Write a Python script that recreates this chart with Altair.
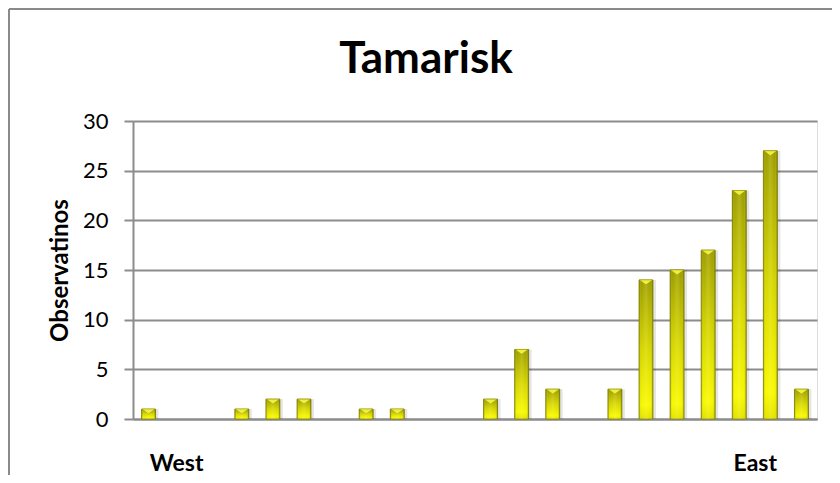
import altair as alt
import pandas as pd

# ---- data ----
positions = list(range(1, 23))
observations = [1, 0, 0, 1, 2, 2, 0, 1, 1, 0, 0, 2, 7, 3, 0, 3, 14, 15, 17, 23, 27, 3]
y_ticks = [0, 5, 10, 15, 20, 25, 30]
end_labels = ["West", "East"]
end_label_pos = [2, 20]
chart_title = "Tamarisk"
y_title = "Observatinos"

df = pd.DataFrame({"pos": positions, "value": observations})
df_nonzero = df[df["value"] > 0]

FONT = "Lato"
GRID = "#8c8c8c"
W, H = 684, 298

x_enc = alt.X(
    "pos:O",
    scale=alt.Scale(domain=positions, paddingInner=0.55, paddingOuter=0.275),
    axis=alt.Axis(labels=False, ticks=False, domain=True, domainColor=GRID,
                  domainWidth=2, title=None, grid=False),
)
y_enc = alt.Y(
    "value:Q",
    scale=alt.Scale(domain=[0, 30], nice=False, zero=True),
    axis=alt.Axis(
        values=y_ticks, grid=True, gridColor=GRID, gridWidth=2,
        domain=True, domainColor=GRID, domainWidth=2,
        ticks=True, tickColor=GRID, tickWidth=2, tickSize=9,
        labelFont=FONT, labelFontSize=22, labelColor="#000000", labelPadding=16,
        title=y_title, titleFont=FONT, titleFontSize=24, titleFontWeight="bold",
        titleColor="#000000", titleAngle=270, titleX=-66, titleY=149,
        titleAlign="center", titleBaseline="alphabetic",
    ),
)

vert_grad = alt.Gradient(
    gradient="linear", x1=0, x2=0, y1=0, y2=1,
    stops=[
        alt.GradientStop(color="#9c9c00", offset=0),
        alt.GradientStop(color="#d6d600", offset=0.5),
        alt.GradientStop(color="#f8f800", offset=0.9),
        alt.GradientStop(color="#e2e200", offset=1),
    ],
)
horiz_grad = alt.Gradient(
    gradient="linear", x1=0, x2=1, y1=0, y2=0,
    stops=[
        alt.GradientStop(color="rgba(90,90,0,0.45)", offset=0),
        alt.GradientStop(color="rgba(255,255,120,0.0)", offset=0.18),
        alt.GradientStop(color="rgba(255,255,170,0.18)", offset=0.5),
        alt.GradientStop(color="rgba(255,255,120,0.0)", offset=0.8),
        alt.GradientStop(color="rgba(70,70,0,0.5)", offset=1),
    ],
)

shadow = alt.Chart(df_nonzero).mark_bar(color="#000000", opacity=0.10, xOffset=3).encode(
    x=x_enc, y=y_enc
)
bars = alt.Chart(df_nonzero).mark_bar(color=vert_grad, stroke="#858500", strokeWidth=0.8).encode(
    x=alt.X("pos:O"), y=alt.Y("value:Q")
)
bars_shade = alt.Chart(df_nonzero).mark_bar(color=horiz_grad).encode(
    x=alt.X("pos:O"), y=alt.Y("value:Q")
)
tops = alt.Chart(df_nonzero).mark_point(
    shape="M-1,0L1,0L0,0.75Z", filled=True, size=170, color="#f0f03c", opacity=1,
    stroke="#8a8a00", strokeWidth=0.4,
).encode(x=alt.X("pos:O"), y=alt.Y("value:Q"))

west = alt.Chart(pd.DataFrame({"pos": [end_label_pos[0]], "t": [end_labels[0]]})).mark_text(
    font=FONT, fontSize=23, fontWeight="bold", color="#000000",
    align="center", baseline="alphabetic", dx=-3,
).encode(x=alt.X("pos:O"), y=alt.value(350), text="t:N")
east = alt.Chart(pd.DataFrame({"pos": [end_label_pos[1]], "t": [end_labels[1]]})).mark_text(
    font=FONT, fontSize=23, fontWeight="bold", color="#000000",
    align="center", baseline="alphabetic", dx=16,
).encode(x=alt.X("pos:O"), y=alt.value(350), text="t:N")

title = alt.Chart(pd.DataFrame({"t": [chart_title]})).mark_text(
    font=FONT, fontSize=44, fontWeight="bold", color="#000000",
    align="center", baseline="alphabetic",
).encode(x=alt.value(293), y=alt.value(-48), text="t:N")

frame_left = alt.Chart(pd.DataFrame({"f": [0]})).mark_rule(
    color="#8a8a8a", strokeWidth=2,
).encode(x=alt.value(-124), y=alt.value(-112), y2=alt.value(600))
frame_top = alt.Chart(pd.DataFrame({"f": [0]})).mark_rule(
    color="#8a8a8a", strokeWidth=2,
).encode(y=alt.value(-112), x=alt.value(-124), x2=alt.value(900))

chart = alt.layer(frame_left, frame_top, shadow, bars, bars_shade, tops, west, east, title).properties(
    width=W, height=H,
    autosize=alt.AutoSizeParams(type="none"),
    padding={"left": 125, "top": 113, "right": 15, "bottom": 56},
).configure_view(stroke=None).configure(background="#ffffff")

chart.save("out.html", embed_options={"renderer": "svg", "actions": False})
